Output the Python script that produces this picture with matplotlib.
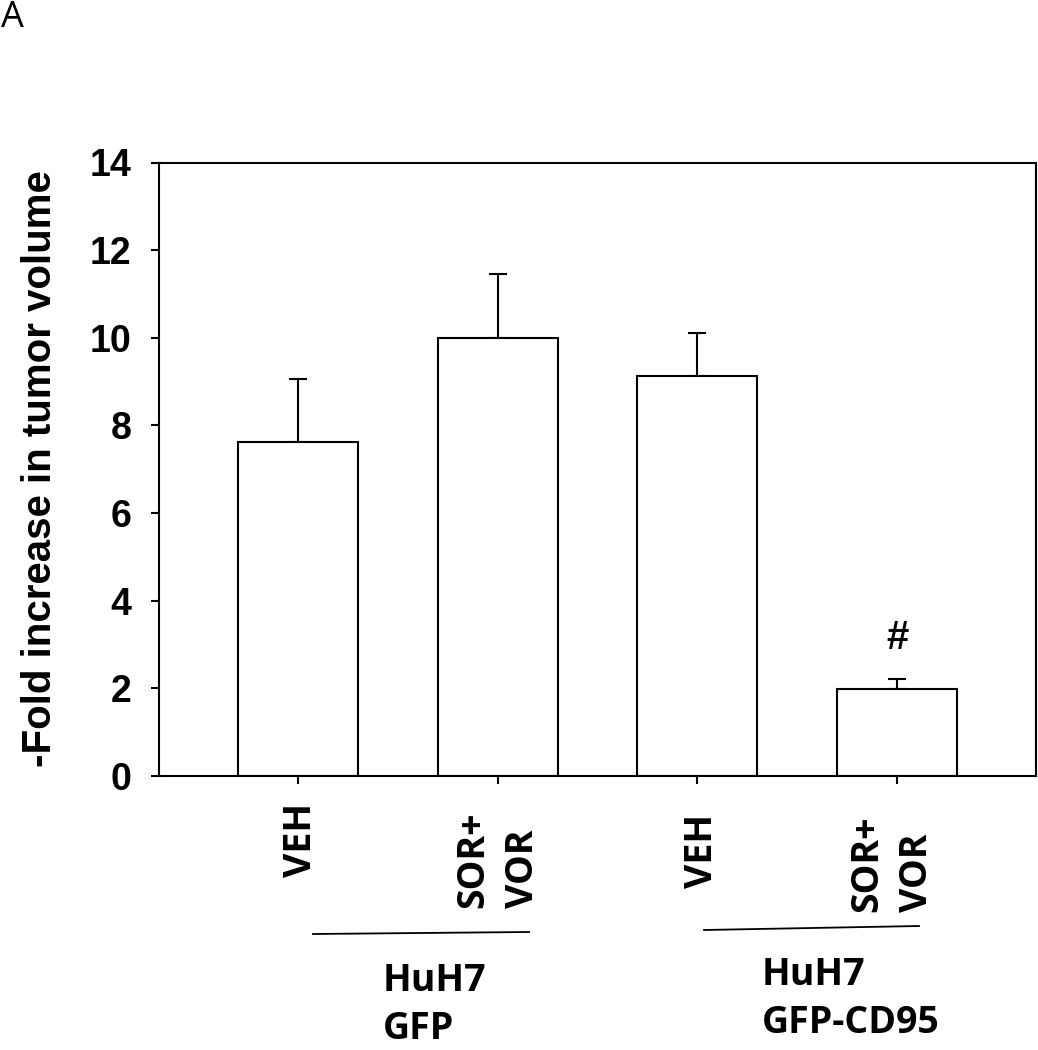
import matplotlib
matplotlib.use("Agg")
import matplotlib.pyplot as plt
from matplotlib.lines import Line2D

# dati
gruppi = ["VEH", "SOR+\nVOR", "VEH", "SOR+\nVOR"]
volume_medio = [7.62, 10.0, 9.12, 1.98]
errore_sup = [1.45, 1.45, 1.0, 0.24]
etichette_y = [0, 2, 4, 6, 8, 10, 12, 14]
linee_cellule = ["HuH7\nGFP", "HuH7\nGFP-CD95"]
significativo = ["", "", "", "#"]

W, H = 1038, 1050


def px(x, y):
    # da pixel (origine in alto a sinistra) a coordinate della figura
    return x / W, 1 - y / H


def creazioneGrafico():
    fig = plt.figure(figsize=(W / 100, H / 100), dpi=100)
    ax = fig.add_axes([159 / W, 1 - 776 / H, (1036 - 159) / W, (776 - 162.5) / H])

    posizioni = list(range(len(gruppi)))
    ax.bar(posizioni, volume_medio, width=0.6, color="white", edgecolor="black",
           linewidth=1.5, zorder=2)
    ax.errorbar(posizioni, volume_medio, yerr=[[0] * len(errore_sup), errore_sup],
                fmt="none", ecolor="black", elinewidth=1.5, capsize=6.5,
                capthick=1.5, zorder=1)

    ax.set_xlim(-0.695, 3.695)
    ax.set_ylim(0, 14)
    ax.set_yticks(etichette_y)
    ax.set_yticklabels([str(v) for v in etichette_y], fontfamily="Liberation Sans",
                       fontweight="bold", fontsize=27)
    ax.set_xticks(posizioni)
    ax.set_xticklabels([])
    ax.tick_params(axis="y", direction="out", length=6, width=1.5, pad=14)
    ax.tick_params(axis="x", direction="out", length=6, width=1.5)
    for s in ax.spines.values():
        s.set_linewidth(1.5)

    # etichette ruotate sotto l'asse x
    fondo = [877, 908, 888, 912]
    centro = [301, 498, 702, 892]
    for i, testo in enumerate(gruppi):
        x, y = px(centro[i], fondo[i])
        fig.text(x, y, testo, rotation=90, ha="center", va="bottom",
                 fontfamily="Open Sans", fontweight="bold", fontsize=27,
                 linespacing=1.4, multialignment="left")

    for i, s in enumerate(significativo):
        if s:
            ax.text(posizioni[i], volume_medio[i] + errore_sup[i] + 0.5, s,
                    ha="center", va="bottom", fontfamily="Liberation Sans",
                    fontweight="bold", fontsize=29)

    # linee e nomi delle linee cellulari
    fig.add_artist(Line2D([313 / W, 529 / W], [1 - 934 / H, 1 - 932 / H],
                          color="black", linewidth=1.3))
    fig.add_artist(Line2D([704 / W, 919 / W], [1 - 930 / H, 1 - 926 / H],
                          color="black", linewidth=1.3))
    sinistra = [383, 762]
    alto = [962, 956]
    for i, testo in enumerate(linee_cellule):
        x, y = px(sinistra[i], alto[i])
        fig.text(x, y, testo, ha="left", va="top", fontfamily="Open Sans",
                 fontweight="bold", fontsize=27, linespacing=1.33)

    x, y = px(40, 469)
    fig.text(x, y, "-Fold increase in tumor volume", rotation=90, ha="center",
             va="center", fontfamily="Liberation Sans", fontweight="bold",
             fontsize=29)

    x, y = px(1, 0)
    fig.text(x, y, "A", ha="left", va="top", fontfamily="Open Sans", fontsize=26)

    fig.savefig("out.png", dpi=100)


def main():
    creazioneGrafico()


if __name__ == '__main__':
    main()
